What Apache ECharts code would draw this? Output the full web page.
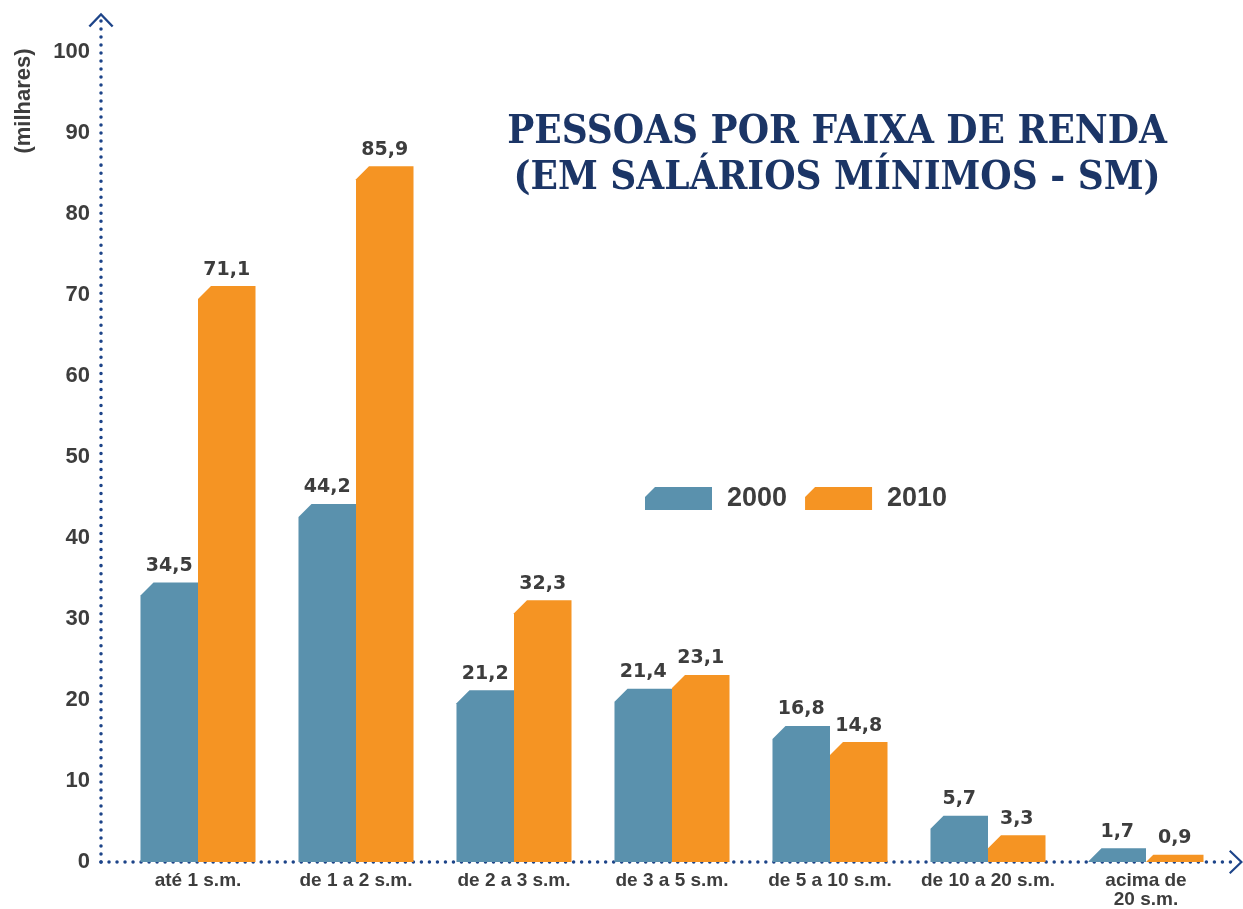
<!DOCTYPE html>
<html>
<head>
<meta charset="utf-8">
<script src="https://cdn.jsdelivr.net/npm/echarts@6/dist/echarts.min.js"></script>
<style>
  html, body { margin: 0; padding: 0; background: #fff; }
  #chart { width: 1243px; height: 909px; }
</style>
</head>
<body>
<div id="chart"></div>
<script>
var categories = ['até 1 s.m.', 'de 1 a 2 s.m.', 'de 2 a 3 s.m.', 'de 3 a 5 s.m.', 'de 5 a 10 s.m.', 'de 10 a 20 s.m.', 'acima de\n20 s.m.'];
var values2000 = [34.5, 44.2, 21.2, 21.4, 16.8, 5.7, 1.7];
var values2010 = [71.1, 85.9, 32.3, 23.1, 14.8, 3.3, 0.9];
var yTicks = [0, 10, 20, 30, 40, 50, 60, 70, 80, 90, 100];

var navy = '#1d4489';
var textGray = '#3d3d3d';
var sans = '"Liberation Sans", Arial, sans-serif';
var chevron = 'path://M50,0 L100,52 L93,58 L50,13 L7,58 L0,52 Z';
var dots = { color: navy, width: 3.5, type: [0.01, 8], cap: 'round' };

function fmt(v) {
    return String(v).replace('.', ',');
}

// chamfered bar + value label; side -1 = left of the band centre, +1 = right
function barRenderer(side) {
    return function (params, api) {
        var idx = api.value(0), v = api.value(1);
        var base = api.coord([idx, 0]);
        var top = api.coord([idx, v]);
        var w = api.size([1, 0])[0] * 0.364;
        var x0 = side < 0 ? base[0] - w : base[0];
        var x1 = x0 + w;
        var c = Math.min(13, base[1] - top[1]);
        return {
            type: 'group',
            children: [{
                type: 'polygon',
                shape: { points: [[x0, base[1]], [x0, top[1] + c], [x0 + c, top[1]], [x1, top[1]], [x1, base[1]]] },
                style: { fill: api.visual('color') }
            }, {
                type: 'text',
                style: {
                    text: fmt(v), x: (x0 + x1) / 2, y: top[1] - 7,
                    align: 'center', verticalAlign: 'bottom',
                    font: 'bold 19px "DejaVu Sans", sans-serif', fill: textGray
                }
            }]
        };
    };
}

var myChart = echarts.init(document.getElementById('chart'));
var option = {
    animation: false,
    grid: [
        { left: 119, right: 18, top: 52, bottom: 47 },
        { left: 101, right: 7, top: 20, bottom: 47 }
    ],
    xAxis: [{
        type: 'category', data: categories, gridIndex: 0,
        axisLine: { show: false }, axisTick: { show: false },
        axisLabel: {
            interval: 0, margin: 9, color: textGray, fontSize: 19, fontWeight: 'bold',
            lineHeight: 19, fontFamily: sans
        }
    }, {
        type: 'value', gridIndex: 1, min: 0, max: 1,
        axisLine: { show: true, onZero: false, lineStyle: dots, symbol: ['none', chevron], symbolSize: [25, 14] },
        axisTick: { show: false }, axisLabel: { show: false }, splitLine: { show: false }
    }],
    yAxis: [{
        type: 'value', gridIndex: 0, min: 0, max: 100, interval: 10,
        axisLine: { show: false }, axisTick: { show: false }, splitLine: { show: false },
        axisLabel: {
            margin: 29, color: textGray, fontSize: 22, fontWeight: 'bold', fontFamily: sans,
            formatter: function (v) { return yTicks.indexOf(v) >= 0 ? String(v) : ''; }
        }
    }, {
        type: 'value', gridIndex: 1, min: 0, max: 1,
        axisLine: { show: true, onZero: false, lineStyle: dots, symbol: ['none', chevron], symbolSize: [25, 15] },
        axisTick: { show: false }, axisLabel: { show: false }, splitLine: { show: false }
    }],
    legend: {
        left: 645, top: 485, padding: 0, itemWidth: 67, itemHeight: 23, itemGap: 18,
        icon: 'path://M0,10 L10,0 L67,0 L67,23 L0,23 Z',
        textStyle: { color: textGray, fontSize: 27, fontWeight: 'bold', fontFamily: sans, padding: [0, 0, 0, 10] },
        data: ['2000', '2010']
    },
    graphic: [{
        type: 'text', x: 837, y: 110,
        style: {
            text: 'PESSOAS POR FAIXA DE RENDA\n(EM SALÁRIOS MÍNIMOS - SM)',
            align: 'center', lineHeight: 46,
            font: 'bold 40px "DejaVu Serif Condensed", "DejaVu Serif", serif', fill: '#1b3566'
        }
    }, {
        type: 'text', x: 13, y: 101, rotation: Math.PI / 2,
        style: {
            text: '(milhares)', align: 'center', verticalAlign: 'top',
            font: 'bold 22px ' + sans, fill: textGray
        }
    }],
    series: [{
        name: '2000', type: 'custom', xAxisIndex: 0, yAxisIndex: 0,
        itemStyle: { color: '#5a91ad' },
        encode: { x: 0, y: 1 },
        data: values2000.map(function (v, i) { return [i, v]; }),
        renderItem: barRenderer(-1)
    }, {
        name: '2010', type: 'custom', xAxisIndex: 0, yAxisIndex: 0,
        itemStyle: { color: '#f59423' },
        encode: { x: 0, y: 1 },
        data: values2010.map(function (v, i) { return [i, v]; }),
        renderItem: barRenderer(1)
    }]
};
myChart.setOption(option);
</script>
</body>
</html>
